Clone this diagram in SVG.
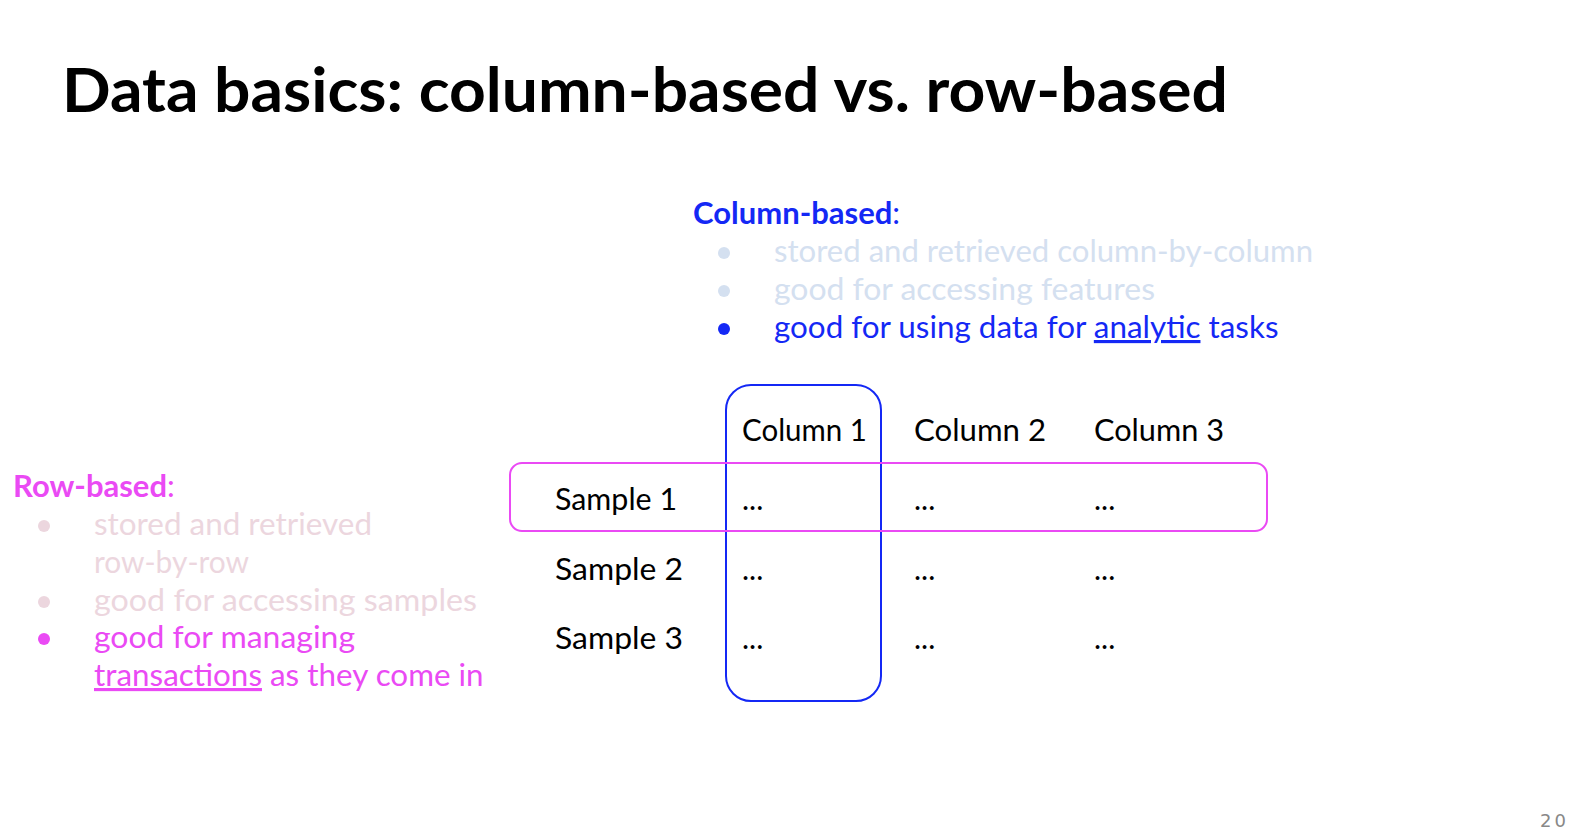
<svg xmlns="http://www.w3.org/2000/svg" width="1578" height="834" viewBox="0 0 1578 834">
<style>
text{font-family:Lato,"Liberation Sans",sans-serif;}
.title{font-size:62px;font-weight:700;fill:#000;}
.hdr{font-size:31px;font-weight:700;}
.body{font-size:31px;}
.wide{font-size:31.4px;}
.cell{font-size:30px;fill:#000;}
.blue{fill:#1428f5;}
.bluef{fill:#d4e0f0;}
.pink{fill:#ea4af4;}
.pinkf{fill:#ecd6de;}
.pnum{font-size:18px;fill:#888;letter-spacing:3px;font-family:"DejaVu Sans",sans-serif;}
</style>
<rect width="1578" height="834" fill="#fff"/>
<g id="title"><text class="title" x="62" y="112" textLength="1166" lengthAdjust="spacingAndGlyphs">Data basics: column-based vs. row-based</text></g>
<g id="column-based">
<text class="hdr" x="693" y="224"><tspan class="blue">Column-based</tspan><tspan class="blue" font-weight="400">:</tspan></text>
<circle class="bluef" cx="724" cy="253" r="6"/>
<text class="body bluef" x="774" y="262" textLength="539" lengthAdjust="spacingAndGlyphs">stored and retrieved column-by-column</text>
<circle class="bluef" cx="724" cy="291" r="6"/>
<text class="body bluef" x="774" y="300" textLength="381" lengthAdjust="spacingAndGlyphs">good for accessing features</text>
<circle class="blue" cx="724" cy="329" r="6"/>
<text class="body wide blue" x="774" y="338">good for using data for <tspan text-decoration="underline">analytic</tspan> tasks</text>
</g>
<g id="row-based">
<text class="hdr" x="13" y="497"><tspan class="pink">Row-based</tspan><tspan class="pink" font-weight="400">:</tspan></text>
<circle class="pinkf" cx="44" cy="526" r="6"/>
<text class="body pinkf" x="94" y="535" textLength="278" lengthAdjust="spacingAndGlyphs">stored and retrieved</text>
<text class="body pinkf" x="94" y="573" textLength="155" lengthAdjust="spacingAndGlyphs">row-by-row</text>
<circle class="pinkf" cx="44" cy="602" r="6"/>
<text class="body pinkf" x="94" y="611" textLength="383" lengthAdjust="spacingAndGlyphs">good for accessing samples</text>
<circle class="pink" cx="44" cy="639" r="6"/>
<text class="body pink" x="94" y="648" textLength="261" lengthAdjust="spacingAndGlyphs">good for managing</text>
<text class="body wide pink" x="94" y="686"><tspan text-decoration="underline">transactions</tspan> as they come in</text>
</g>
<g id="table">
<text class="cell" x="742" y="441" textLength="125" lengthAdjust="spacingAndGlyphs">Column 1</text>
<text class="cell" x="914" y="441" textLength="132" lengthAdjust="spacingAndGlyphs">Column 2</text>
<text class="cell" x="1094" y="441" textLength="130" lengthAdjust="spacingAndGlyphs">Column 3</text>
<text class="cell" x="555" y="510" textLength="122" lengthAdjust="spacingAndGlyphs">Sample 1</text>
<text class="cell" x="555" y="580" textLength="128" lengthAdjust="spacingAndGlyphs">Sample 2</text>
<text class="cell" x="555" y="649" textLength="128" lengthAdjust="spacingAndGlyphs">Sample 3</text>
<text class="cell" x="742" y="510">...</text><text class="cell" x="914" y="510">...</text><text class="cell" x="1094" y="510">...</text>
<text class="cell" x="742" y="580">...</text><text class="cell" x="914" y="580">...</text><text class="cell" x="1094" y="580">...</text>
<text class="cell" x="742" y="649">...</text><text class="cell" x="914" y="649">...</text><text class="cell" x="1094" y="649">...</text>
</g>
<g id="connectors">
<rect id="column-highlight" x="726" y="385" width="155" height="316" rx="25" fill="none" stroke="#1428f5" stroke-width="2"/>
<rect id="row-highlight" x="510" y="463" width="757" height="68" rx="12" fill="none" stroke="#ea4af4" stroke-width="2"/>
</g>
<g id="page-number"><text class="pnum" x="1540" y="827">20</text></g>
</svg>
